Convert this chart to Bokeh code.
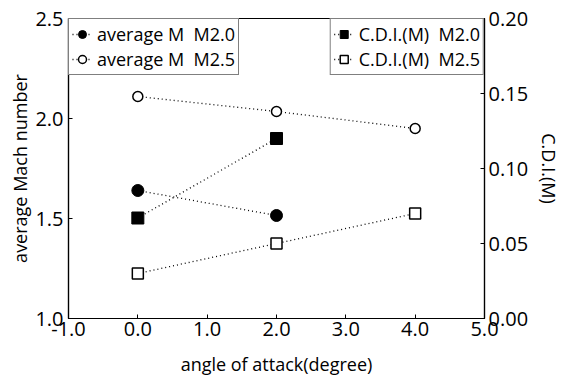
from bokeh.plotting import figure
from bokeh.models import (Range1d, LinearAxis, FixedTicker, PrintfTickFormatter,
                          Legend, LegendItem)
from bokeh.embed import file_html
from bokeh.resources import INLINE

# ---- data ----
angle_m20 = [0.0, 2.0]
avg_mach_m20 = [1.64, 1.515]
angle_m25 = [0.0, 2.0, 4.0]
avg_mach_m25 = [2.11, 2.035, 1.95]
cdi_m20 = [0.067, 0.12]
cdi_m25 = [0.03, 0.05, 0.07]

x_ticks = [-1.0, 0.0, 1.0, 2.0, 3.0, 4.0, 5.0]
left_ticks = [1.0, 1.5, 2.0, 2.5]
right_ticks = [0.0, 0.05, 0.10, 0.15, 0.20]

FONT = "Open Sans"

p = figure(width=564, height=378, output_backend="svg", toolbar_location=None,
           x_range=Range1d(-1, 5), y_range=Range1d(1.0, 2.5),
           min_border_left=68, min_border_top=18, min_border_right=76,
           min_border_bottom=60)
p.extra_y_ranges = {"cdi": Range1d(0.0, 0.2)}
p.grid.visible = False
p.outline_line_color = "black"
p.outline_line_width = 1.2
p.background_fill_color = "white"
p.border_fill_color = "white"

right_axis = LinearAxis(y_range_name="cdi")
p.add_layout(right_axis, "right")

p.xaxis.ticker = FixedTicker(ticks=x_ticks)
p.xaxis.formatter = PrintfTickFormatter(format="%.1f")
p.yaxis[0].ticker = FixedTicker(ticks=left_ticks)
p.yaxis[0].formatter = PrintfTickFormatter(format="%.1f")
right_axis.ticker = FixedTicker(ticks=right_ticks)
right_axis.formatter = PrintfTickFormatter(format="%.2f")

p.xaxis.axis_label = "angle of attack(degree)"
p.yaxis[0].axis_label = "average Mach number"
right_axis.axis_label = "C.D.I.(M)"

for ax in [p.xaxis[0], p.yaxis[0], right_axis]:
    ax.major_tick_in = 4
    ax.major_tick_out = 0
    ax.minor_tick_in = 0
    ax.minor_tick_out = 0
    ax.axis_line_color = "black"
    ax.axis_line_width = 1.2
    ax.major_tick_line_color = "black"
    ax.major_label_text_font = FONT
    ax.major_label_text_font_size = "20px"
    ax.major_label_text_color = "black"
    ax.axis_label_text_font = FONT
    ax.axis_label_text_font_size = "18px"
    ax.axis_label_text_font_style = "normal"
    ax.axis_label_text_color = "black"
    ax.major_label_standoff = 4
    ax.axis_label_standoff = 6

p.xaxis[0].major_label_standoff = 3
p.xaxis[0].axis_label_standoff = 13
p.yaxis[0].major_label_standoff = 5
p.yaxis[0].axis_label_standoff = 0
right_axis.axis_label_standoff = 6

dash = "1 3"
# average M, M2.0
l1 = p.line(angle_m20, avg_mach_m20, line_color="black", line_dash=dash, line_width=1.3)
s1 = p.scatter(angle_m20, avg_mach_m20, marker="circle", size=12,
               fill_color="black", line_color="black")
# average M, M2.5
l2 = p.line(angle_m25, avg_mach_m25, line_color="black", line_dash=dash, line_width=1.3)
s2 = p.scatter(angle_m25, avg_mach_m25, marker="circle", size=10,
               fill_color="white", line_color="black", line_width=1.5)
# CDI, M2.0
l3 = p.line(angle_m20, cdi_m20, y_range_name="cdi", line_color="black",
            line_dash=dash, line_width=1.3)
s3 = p.scatter(angle_m20, cdi_m20, y_range_name="cdi", marker="square", size=12,
               fill_color="black", line_color="black")
# CDI, M2.5
l4 = p.line(angle_m25, cdi_m25, y_range_name="cdi", line_color="black",
            line_dash=dash, line_width=1.3)
s4 = p.scatter(angle_m25, cdi_m25, y_range_name="cdi", marker="square", size=11,
               fill_color="white", line_color="black", line_width=1.5)


def make_legend(items, loc):
    lg = Legend(items=items, location=loc)
    lg.margin = 0
    lg.padding = 3
    lg.spacing = 1
    lg.glyph_width = 20
    lg.glyph_height = 22
    lg.label_height = 22
    lg.label_standoff = 5
    lg.label_text_font = FONT
    lg.label_text_font_size = "18px"
    lg.label_text_color = "black"
    lg.border_line_color = "black"
    lg.border_line_width = 1.2
    lg.background_fill_color = "white"
    lg.background_fill_alpha = 1.0
    return lg


leg_left = make_legend([
    LegendItem(label="average M  M2.0", renderers=[l1, s1]),
    LegendItem(label="average M  M2.5", renderers=[l2, s2]),
], "top_left")
leg_right = make_legend([
    LegendItem(label="C.D.I.(M)  M2.0", renderers=[l3, s3]),
    LegendItem(label="C.D.I.(M)  M2.5", renderers=[l4, s4]),
], "top_right")
p.add_layout(leg_left)
p.add_layout(leg_right)

open("out.html", "w").write(file_html(p, INLINE))
